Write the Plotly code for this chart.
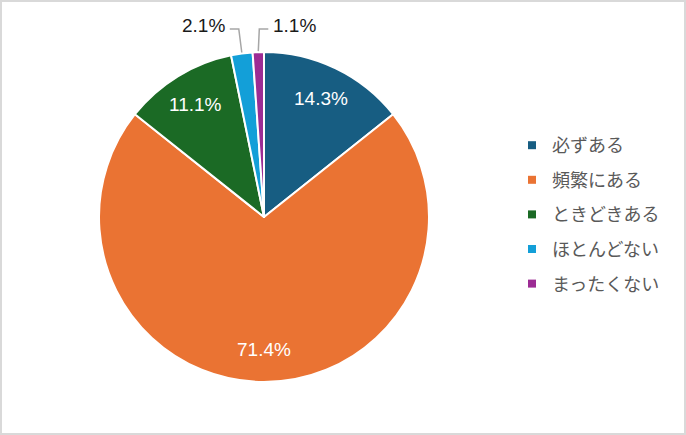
import math
import plotly.graph_objects as go

labels = ['必ずある', '頻繁にある', 'ときどきある', 'ほとんどない', 'まったくない']
values = [14.3, 71.4, 11.1, 2.1, 1.1]
colors = ['#175d82', '#ea7333', '#1b6a25', '#139fd8', '#9c2c94']
# 0 = label inside the slice, -1/+1 = outside label pulled to the left/right
label_side = [0, 0, 0, -1, 1]

W, H = 686, 435
cx, cy, r = 264, 217, 165   # pie centre and radius in pixels


def px(x, y):
    return x / W, 1 - y / H


fig = go.Figure()

fig.add_trace(go.Pie(
    labels=labels,
    values=values,
    sort=False,
    direction='clockwise',
    rotation=0,
    marker=dict(colors=colors, line=dict(color='white', width=2)),
    textinfo='none',
    domain=dict(x=[(cx - r) / W, (cx + r) / W], y=[1 - (cy + r) / H, 1 - (cy - r) / H]),
    showlegend=False,
    hoverinfo='label+percent',
))

# data labels placed like Excel: inside at 0.8r, small slices outside with elbow lines
total = sum(values)
cum = 0
annotations = []
shapes = [dict(type='rect', xref='paper', yref='paper', x0=0, y0=0, x1=1, y1=1,
               line=dict(color='#d9d9d9', width=4))]
for v, side in zip(values, label_side):
    mid = (cum + v / 2) / total * 2 * math.pi
    cum += v
    txt = f'{v / total * 100:.1f}%'
    if side == 0:
        x, y = px(cx + 0.8 * r * math.sin(mid), cy - 0.8 * r * math.cos(mid))
        annotations.append(dict(x=x, y=y, xref='paper', yref='paper', text=txt, showarrow=False,
                                xanchor='center', yanchor='middle',
                                font=dict(color='white', size=19, family='Liberation Sans, Arial')))
    else:
        ex, ey = cx + r * math.sin(mid), cy - r * math.cos(mid)
        ky = cy - r - 23
        kx = ex + (side * 1 if side > 0 else -3)
        hx = kx + side * 9
        shapes.append(dict(type='path', xref='paper', yref='paper',
                           path='M {} {} L {} {} L {} {}'.format(
                               *px(ex, ey - 1), *px(kx, ky), *px(hx, ky)),
                           line=dict(color='#a6a6a6', width=1.5)))
        x, y = px(hx + side * 3, ky - 3)
        annotations.append(dict(x=x, y=y, xref='paper', yref='paper', text=txt, showarrow=False,
                                xanchor='left' if side > 0 else 'right', yanchor='middle',
                                font=dict(color='#1a1a1a', size=19, family='Liberation Sans, Arial')))

# legend entries drawn with empty traces so the row spacing can be matched
for i, (lab, col) in enumerate(zip(labels, colors)):
    fig.add_trace(go.Scatter(
        x=[None], y=[None], mode='markers', name=lab,
        marker=dict(symbol='square', size=8, color=col),
        legendgroup=str(i),
    ))

fig.update_layout(
    width=W, height=H,
    margin=dict(l=0, r=0, t=0, b=0),
    paper_bgcolor='white',
    plot_bgcolor='white',
    xaxis=dict(visible=False),
    yaxis=dict(visible=False),
    font=dict(family='Liberation Sans, Arial'),
    legend=dict(
        x=512 / W, y=1 - 127 / H, xanchor='left', yanchor='top',
        font=dict(size=18, color='#595959', family='Noto Sans CJK JP'),
        tracegroupgap=8.2,
        bgcolor='rgba(0,0,0,0)',
    ),
    annotations=annotations,
    shapes=shapes,
)

fig.write_html('out.html', config={'displayModeBar': False},
               post_script="document.body.style.margin='0';")
